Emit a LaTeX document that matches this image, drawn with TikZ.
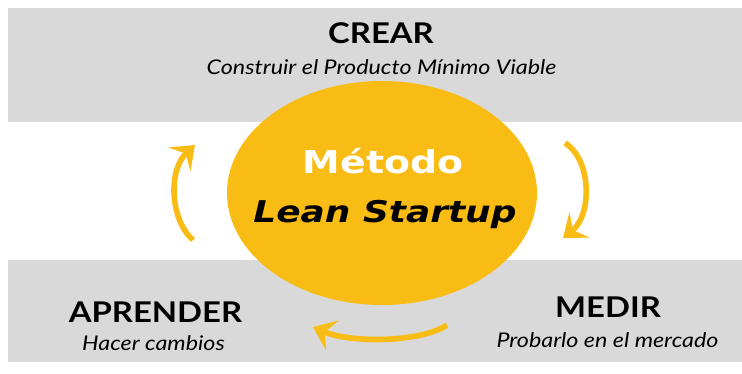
\documentclass[tikz,border=0pt]{standalone}
\usepackage{fontspec}
\setmainfont{Lato}[FakeStretch=1.15]
\newfontfamily\ovalfont{DejaVu Sans}[FakeStretch=1.2]
\usetikzlibrary{shapes.geometric,arrows.meta}
\definecolor{bandgray}{HTML}{D9D9D9}
\definecolor{leanorange}{HTML}{F9BC15}
\tikzset{
  phase/.style={anchor=base, inner sep=0pt, font=\fontsize{20.3}{24}\selectfont\bfseries},
  phasesub/.style={anchor=base, inner sep=0pt, font=\fontsize{14.4}{17}\selectfont\itshape},
  cyclearrow/.style={draw=leanorange, line width=4pt,
    -{Stealth[length=15pt, width=23pt, inset=6pt]}}
}

\begin{document}
\begin{tikzpicture}
  \useasboundingbox (0,0) rectangle (18.55,-9.35);
  \fill[bandgray] (0.2,-0.2) rectangle (18.55,-3.05);
  \fill[bandgray] (0.2,-6.5) rectangle (18.55,-9.05);
  \node[ellipse, fill=leanorange, minimum width=7.75cm, minimum height=5.6cm] (metodo) at (9.55,-4.825) {};
  \node[anchor=base, inner sep=0pt, text=white, font=\ovalfont\fontsize{22.4}{26}\selectfont\bfseries] (metodoTitle) at (9.575,-4.325) {Método};
  \node[anchor=base, inner sep=0pt, font=\ovalfont\fontsize{21.3}{25}\selectfont\bfseries\itshape] (leanTitle) at (9.625,-5.55) {Lean Startup};

  \node[phase] (crear) at (9.525,-1.075) {CREAR};
  \node[phasesub] (crearSub) at (9.5375,-1.85) {Construir el Producto Mínimo Viable};
  \node[phase] (aprender) at (3.8875,-8.05) {APRENDER};
  \node[phasesub] (aprenderSub) at (3.8375,-8.75) {Hacer cambios};
  \node[phase] (medir) at (15.2,-7.925) {MEDIR};
  \node[phasesub] (medirSub) at (15.1875,-8.675) {Probarlo en el mercado};

  % arrows round the oval
  \coordinate (leftTail) at (4.825,-6.0);
  \coordinate (leftTip) at (4.875,-3.625);
  \coordinate (rightTail) at (14.125,-3.575);
  \coordinate (rightTip) at (14.075,-5.95);
  \coordinate (bottomTail) at (11.175,-8.125);
  \coordinate (bottomTip) at (7.825,-8.175);
  \draw[cyclearrow] (leftTail) .. controls (4.25,-5.5) and (4.2,-4.25) .. (leftTip);
  \draw[cyclearrow] (rightTail) .. controls (14.8,-4.0) and (14.8,-5.375) .. (rightTip);
  \draw[cyclearrow] (bottomTail) .. controls (10.5,-8.575) and (8.75,-8.575) .. (bottomTip);
\end{tikzpicture}
\end{document}
